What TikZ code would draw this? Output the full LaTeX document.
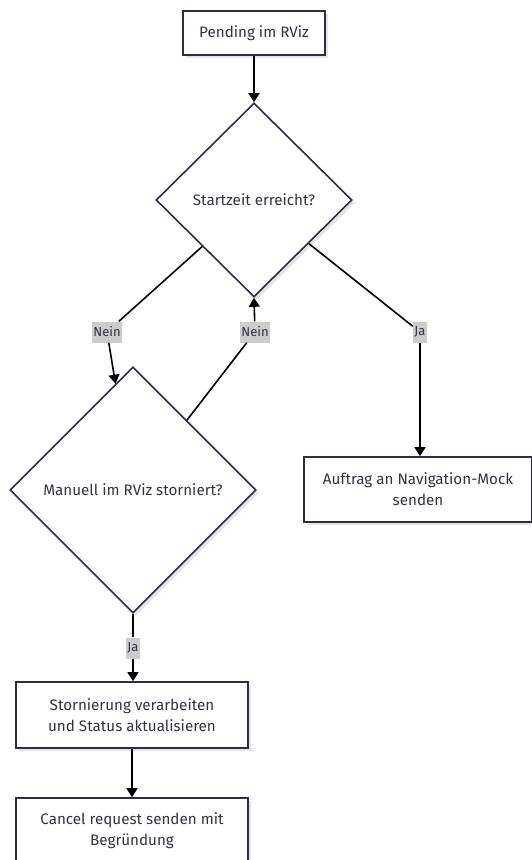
\documentclass[tikz,border=0pt]{standalone}
\usepackage{fontspec}
\setmainfont{Fira Sans}
\usetikzlibrary{shapes.geometric,arrows.meta,shadows}
\definecolor{ink}{RGB}{44,44,72}
\definecolor{txt}{RGB}{51,51,68}
\definecolor{lblbg}{RGB}{204,204,204}
\begin{document}
\begin{tikzpicture}[x=1pt,y=-1pt,
  softshadow/.style={drop shadow={shadow xshift=3pt,shadow yshift=-3pt,fill=black!10,opacity=1}},
  stepbox/.style={draw=ink,line width=1.6pt,fill=white,text=txt,align=center,
    inner sep=0pt,font=\fontsize{15.2}{21}\selectfont,softshadow},
  decision/.style={diamond,draw=ink,line width=1.6pt,fill=white,text=txt,align=center,
    inner sep=0pt,aspect=1,font=\fontsize{15.2}{21}\selectfont,softshadow},
  edgelabel/.style={fill=lblbg,text=txt,inner xsep=1.5pt,inner ysep=0pt,minimum height=21pt,
    font=\fontsize{13}{14}\selectfont},
  link/.style={draw=black,line width=1.6pt},
  flow/.style={link,-{Triangle[length=9pt,width=11pt]}}
]
\useasboundingbox (0,0) rectangle (532,860);
\clip (0,0) rectangle (532,860);

% process boxes
\node[stepbox,minimum width=142pt,minimum height=44pt] (pending) at (254,33) {Pending im RViz};
\node[stepbox,minimum width=228pt,minimum height=65pt] (send) at (418,489.5) {Auftrag an Navigation-Mock\\senden};
\node[stepbox,minimum width=232pt,minimum height=66pt] (cancelproc) at (132,715) {Stornierung verarbeiten\\und Status aktualisieren};
\node[stepbox,minimum width=232pt,minimum height=66pt] (cancelreq) at (132,831) {Cancel request senden mit\\Begründung};

% decisions
\node[decision,minimum width=196pt,minimum height=194pt] (start) at (254,200) {Startzeit erreicht?};
\node[decision,minimum width=246pt,minimum height=246pt] (manual) at (133,490) {Manuell im RViz storniert?};

% branch labels
\node[edgelabel] (neinA) at (107,332) {Nein};
\node[edgelabel] (neinB) at (255,332) {Nein};
\node[edgelabel] (jaA) at (420,332) {Ja};
\node[edgelabel] (jaB) at (133,648) {Ja};

% connectors
\draw[flow] (pending) -- (start);
\draw[link] (start) -- (neinA);
\draw[flow] (neinA) -- (manual);
\draw[link] (manual) -- (neinB);
\draw[flow] (neinB) -- (start.south);
\draw[link] (start) -- (jaA);
\draw[flow] (jaA) -- (send.north -| jaA);
\draw[link] (manual.south) -- (jaB);
\draw[flow] (jaB) -- (cancelproc.north -| jaB);
\draw[flow] (cancelproc) -- (cancelreq);
\end{tikzpicture}
\end{document}
